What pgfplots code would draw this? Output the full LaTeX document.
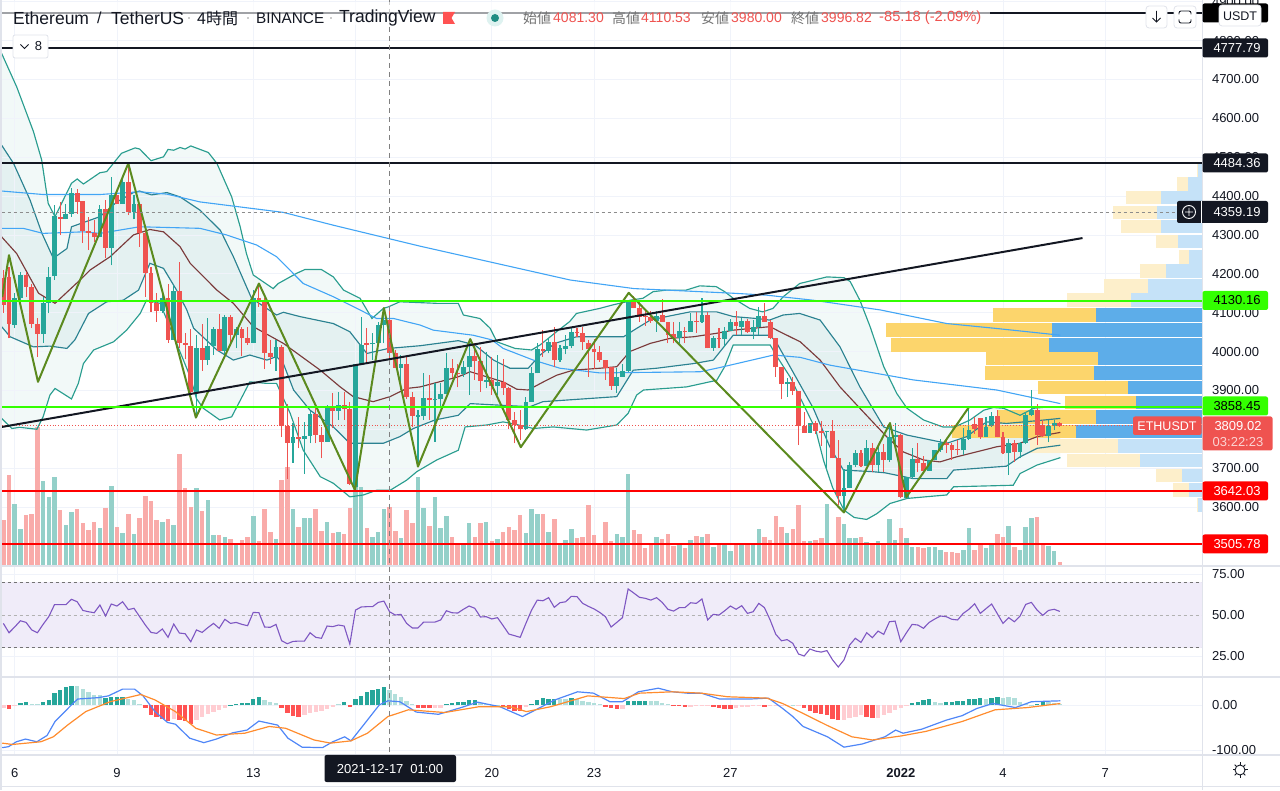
\documentclass[border=0pt]{standalone}
\usepackage{fontspec}
\usepackage{pgfplots}
\usepackage{pgfplotstable}
\pgfplotsset{compat=1.18}
\usepgfplotslibrary{fillbetween}
\setmainfont{Liberation Sans}
\newfontfamily\cjk{Noto Sans CJK JP}
\definecolor{up}{HTML}{26A69A}
\definecolor{dn}{HTML}{EF5350}
\definecolor{volup}{HTML}{94D0C9}
\definecolor{voldn}{HTML}{F9ABA9}
\definecolor{ink}{HTML}{131722}
\definecolor{gridc}{HTML}{F0F3FA}
\definecolor{paneb}{HTML}{E0E3EB}
\definecolor{lvlg}{HTML}{33FF00}
\definecolor{lvlr}{HTML}{FF0000}
\definecolor{zig}{HTML}{5B8A1E}
\definecolor{bbout}{HTML}{2A9D8F}
\definecolor{bbin}{HTML}{2B8291}
\definecolor{bbmid}{HTML}{7B3B3B}
\definecolor{mablue}{HTML}{42A5F5}
\definecolor{rsic}{HTML}{7E57C2}
\definecolor{rsib}{HTML}{F0ECF9}
\definecolor{macdb}{HTML}{4F86F7}
\definecolor{macdo}{HTML}{FF8C2E}
\definecolor{hsg}{HTML}{26A69A}
\definecolor{hlg}{HTML}{B2DFDB}
\definecolor{hsr}{HTML}{FF5252}
\definecolor{hlr}{HTML}{FFCDD2}
\definecolor{pob}{HTML}{FCD56C}
\definecolor{pbb}{HTML}{5DADE9}
\definecolor{pol}{HTML}{FDEFCB}
\definecolor{pbl}{HTML}{C5E2F8}

\pgfplotstableread{
i o h l c v
-2 4190 4210 4100 4120 45
-1 4192 4218 4034 4072 90
0 4068 4150 4060 4137 61
1 4137 4205 4130 4197 36
2 4197 4205 4140 4167 50
3 4167 4175 4060 4072 51
4 4072 4085 3987 4045 138
5 4045 4140 4023 4126 84
6 4126 4218 4098 4192 68
7 4194 4377 4184 4348 88
8 4347 4385 4300 4341 55
9 4341 4379 4340 4354 40
10 4354 4420 4347 4409 53
11 4409 4417 4355 4385 56
12 4387 4387 4280 4311 42
13 4311 4347 4261 4306 35
14 4306 4338 4282 4294 43
15 4294 4377 4294 4366 37
16 4366 4390 4240 4267 57
17 4267 4450 4222 4402 79
18 4402 4415 4379 4379 38
19 4379 4445 4379 4437 32
20 4437 4484 4351 4360 51
21 4360 4402 4340 4379 31
22 4379 4379 4270 4306 47
23 4306 4325 4141 4201 69
24 4201 4218 4102 4124 64
25 4124 4150 4077 4105 45
26 4105 4160 4098 4137 43
27 4139 4175 4023 4030 46
28 4030 4170 4030 4156 40
29 4156 4231 4010 4021 111
30 4023 4048 3980 4017 77
31 4015 4057 3890 3897 58
32 3897 4042 3832 4008 77
33 4008 4072 3950 3978 54
34 3978 4087 3965 4014 65
35 4014 4064 3991 4057 30
36 4057 4096 4002 4002 30
37 4002 4094 3993 4090 28
38 4090 4094 4017 4042 26
39 4042 4064 4008 4057 21
40 4057 4064 3988 4036 25
41 4036 4064 4017 4023 28
42 4023 4158 4021 4139 49
43 4139 4175 4115 4128 24
44 4131 4137 3954 3997 56
45 3997 4030 3969 3985 33
46 3985 4030 3951 4011 26
47 4011 4017 3780 3809 85
48 3809 3866 3673 3765 98
49 3765 3815 3714 3781 56
50 3781 3832 3751 3775 38
51 3775 3819 3686 3783 47
52 3783 3847 3764 3838 47
53 3838 3866 3764 3785 56
54 3785 3806 3725 3768 34
55 3768 3862 3768 3860 43
56 3860 3894 3802 3848 32
57 3848 3897 3824 3862 33
58 3862 3897 3824 3851 31
59 3851 3871 3656 3659 57
60 3652 3969 3643 3969 78
61 3969 4090 3969 4017 78
62 4021 4060 3969 4018 37
63 4019 4048 3978 4021 28
64 4021 4077 4021 4068 33
65 4068 4111 4021 4081 56
66 4081 4111 3978 3997 58
67 3997 4004 3957 3957 34
68 3958 3991 3901 3968 27
69 3968 3987 3879 3882 55
70 3882 3897 3806 3834 42
71 3832 3849 3703 3836 88
72 3834 3944 3824 3881 57
73 3881 3939 3824 3875 39
74 3875 3918 3768 3878 68
75 3877 3918 3854 3891 37
76 3891 3995 3891 3957 49
77 3957 3982 3931 3945 28
78 3945 3969 3908 3943 21
79 3943 3975 3935 3959 22
80 3959 4021 3888 3988 42
81 3988 4021 3927 3975 28
82 3975 4012 3896 3925 42
83 3922 3999 3905 3926 43
84 3926 3987 3888 3911 24
85 3911 3991 3888 3922 26
86 3922 3982 3888 3905 33
87 3905 3909 3800 3824 38
88 3824 3845 3764 3811 35
89 3812 3849 3772 3800 50
90 3800 3884 3798 3871 32
91 3871 3959 3871 3944 56
92 3944 4021 3944 4006 51
93 4006 4055 3987 4002 51
94 4002 4034 3995 4025 33
95 4025 4062 3961 3978 46
96 3978 4017 3974 4008 21
97 4007 4042 3993 4014 25
98 4014 4060 4008 4049 36
99 4049 4060 4038 4047 27
100 4047 4062 4004 4024 28
101 4023 4030 3935 4006 60
102 4006 4031 3954 3998 30
103 3998 4014 3974 3978 21
104 3978 3978 3927 3957 43
105 3959 3959 3901 3911 24
106 3911 3957 3894 3935 31
107 3935 3969 3935 3950 28
108 3950 4132 3948 4132 91
109 4132 4143 4111 4111 35
110 4111 4128 4077 4090 31
111 4091 4107 4066 4088 17
112 4090 4105 4074 4079 22
113 4079 4105 4051 4091 28
114 4094 4134 4077 4077 26
115 4077 4077 4021 4042 31
116 4045 4077 4021 4034 19
117 4036 4077 4023 4053 20
118 4053 4064 4023 4051 17
119 4051 4098 4051 4078 25
120 4078 4101 4048 4076 29
121 4076 4137 4074 4094 28
122 4094 4102 4008 4008 31
123 4010 4040 4002 4036 18
124 4036 4060 4008 4034 20
125 4032 4064 4012 4054 20
126 4054 4083 4054 4077 14
127 4075 4105 4042 4066 22
128 4064 4085 4042 4079 21
129 4079 4083 4048 4049 20
130 4049 4081 4031 4062 20
131 4062 4115 4042 4091 36
132 4091 4126 4077 4077 28
133 4077 4081 4031 4036 25
134 4036 4036 3935 3959 49
135 3959 3959 3877 3916 38
136 3916 3933 3884 3922 32
137 3922 3935 3888 3898 36
138 3898 3898 3759 3809 60
139 3809 3845 3791 3791 24
140 3791 3815 3791 3815 24
141 3815 3822 3789 3796 25
142 3796 3822 3757 3791 27
143 3794 3796 3699 3796 61
144 3796 3824 3725 3725 22
145 3725 3772 3605 3628 48
146 3628 3699 3590 3648 41
147 3648 3716 3648 3708 27
148 3708 3746 3703 3738 27
149 3738 3746 3703 3705 28
150 3705 3772 3705 3751 23
151 3751 3764 3690 3708 22
152 3708 3757 3690 3742 24
153 3742 3762 3691 3720 22
154 3720 3815 3716 3779 46
155 3779 3815 3755 3785 25
156 3785 3788 3622 3626 37
157 3622 3678 3622 3678 27
158 3678 3751 3673 3723 18
159 3723 3764 3691 3712 18
160 3712 3730 3691 3693 17
161 3693 3722 3693 3722 18
162 3722 3746 3720 3746 18
163 3746 3774 3742 3765 15
164 3765 3774 3738 3759 13
165 3759 3765 3721 3746 13
166 3748 3772 3733 3746 12
167 3746 3802 3733 3776 15
168 3774 3858 3772 3798 37
169 3813 3832 3788 3800 15
170 3828 3828 3776 3781 20
171 3781 3832 3781 3807 17
172 3808 3845 3806 3834 22
173 3834 3849 3779 3781 31
174 3781 3793 3736 3738 28
175 3738 3776 3682 3764 39
176 3764 3772 3716 3742 18
177 3742 3766 3725 3764 15
178 3764 3845 3762 3836 38
179 3836 3901 3834 3849 47
180 3849 3865 3759 3785 48
181 3812 3824 3780 3782 22
182 3782 3824 3766 3809 19
183 3809 3824 3798 3815 14
184 3815 3818 3806 3808 2.5
}\ohlc

\pgfplotstableread{
p up tot k
4467 4 5 0
4431 14 25 0
4396 41 76 0
4358 45 89 0
4322 41 81 0
4283 24 46 0
4243 13 23 0
4207 36 62 0
4169 54 98 0
4133 71 135 0
4094 106 209 1
4055 150 316 1
4017 153 311 1
3982 104 216 1
3945 108 217 1
3907 74 164 1
3869 66 137 1
3832 106 205 1
3794 126 250 1
3757 84 172 0
3720 62 135 0
3681 20 46 0
3644 13 29 0
3605 4 5 0
}\vprofile

\pgfplotstableread{
i r
-2 44.9
-1 39.2
0 42.7
1 46.5
2 45.5
3 40.9
4 39.2
5 44.3
6 49
7 56.3
8 56.3
9 56.3
10 59.6
11 58.1
12 52.8
13 52
14 51.4
15 56.1
16 49.4
17 56.7
18 55.5
19 58.1
20 53.3
21 54.1
22 49
23 43.9
24 39.4
25 38.8
26 41.5
27 36.4
28 44.5
29 39
30 38.6
31 33.7
32 40.9
33 39.4
34 42.3
35 44.9
36 41.9
37 47.4
38 44.9
39 45.5
40 44.3
41 43.5
42 51.6
43 51.4
44 42.7
45 42.5
46 44.3
47 34.3
48 32.5
49 33.9
50 34.1
51 34.1
52 39.2
53 36.4
54 35.8
55 43.3
56 42.9
57 43.9
58 43.3
59 32.3
60 53
61 54.9
62 55.1
63 55.1
64 57.7
65 58.5
66 52
67 50
68 50.4
69 44.9
70 42.1
71 42.1
72 45.7
73 45.7
74 45.7
75 47
76 52.6
77 51.4
78 51.2
79 53.5
80 55.5
81 54.1
82 48.8
83 49
84 47.6
85 48.4
86 43.5
87 38.4
88 37.4
89 36.4
90 44.9
91 53
92 59.1
93 58.7
94 60.6
95 54.7
96 57.5
97 58.1
98 61.4
99 61.2
100 57.1
101 55.3
102 53.7
103 51.6
104 49
105 42.7
106 45.5
107 48.4
108 65.9
109 63.4
110 60.8
111 60.2
112 59.1
113 60.6
114 57.7
115 53.5
116 52.4
117 54.5
118 54.5
119 57.5
120 57.1
121 59.8
122 47
123 50.4
124 50
125 52.6
126 55.5
127 53.5
128 55.7
129 51
130 52
131 57.1
132 54.5
133 47
134 38.2
135 34.3
136 35
137 32.7
138 26.2
139 25
140 29.3
141 28
142 27.4
143 28.3
144 22.6
145 18.3
146 22.6
147 31.7
148 35.8
149 33.3
150 39.2
151 36.2
152 40.2
153 38.2
154 45.9
155 46.3
156 33.7
157 39.2
158 44.3
159 43.9
160 41.9
161 45.5
162 47.6
163 49.4
164 49
165 47.4
166 47
167 51
168 53.5
169 56.9
170 51
171 53.9
172 56.7
173 50.8
174 44.9
175 48.4
176 45.9
177 49.4
178 56.5
179 57.7
180 53
181 49.8
182 52.8
183 53.5
184 52.2
}\rsi

\pgfplotstableread{
i h k
-2 -7 4
-1 -9 3
0 -2 4
1 6 1
2 8 1
3 4 2
4 2 2
5 7 1
6 12 1
7 27 1
8 34 1
9 40 1
10 44 1
11 44 2
12 36 2
13 30 2
14 24 2
15 23 2
16 17 1
17 19 1
18 18 1
19 19 1
20 14 2
21 12 2
22 4 2
23 -7 3
24 -21 3
25 -27 3
26 -30 3
27 -34 3
28 -30 4
29 -32 3
30 -35 3
31 -41 3
32 -32 4
33 -26 4
34 -20 4
35 -15 4
36 -10 4
37 -5 4
38 1 1
39 4 1
40 6 1
41 6 1
42 13 1
43 18 1
44 11 2
45 7 2
46 6 2
47 -7 3
48 -17 3
49 -24 3
50 -26 3
51 -22 4
52 -17 4
53 -15 4
54 -13 4
55 -9 4
56 -3 4
57 2 2
58 7 1
59 -3 3
60 13 1
61 21 1
62 30 1
63 34 1
64 37 1
65 40 1
66 34 2
67 25 2
68 19 2
69 10 2
70 2 2
71 -5 3
72 -5 3
73 -5 3
74 -5 4
75 -5 4
76 3 1
77 5 1
78 7 1
79 8 1
80 11 1
81 11 1
82 5 2
83 2 2
84 0.5 2
85 0.5 2
86 -3 3
87 -8 3
88 -12 3
89 -13 3
90 -3 4
91 4 1
92 11 1
93 16 1
94 15 1
95 14 1
96 15 2
97 15 2
98 16 1
99 13 2
100 10 2
101 7 2
102 5 2
103 2 2
104 -3 3
105 -6 3
106 -8 3
107 -9 4
108 9 1
109 10 1
110 10 1
111 10 1
112 9 2
113 9 2
114 6 2
115 2 2
116 -1 3
117 -2 3
118 -3 3
119 -3 4
120 -1 4
121 -1 4
122 -1 4
123 -4 3
124 -7 3
125 -8 3
126 -9 3
127 -5 4
128 -4 4
129 -3 4
130 -2 4
131 -2 4
132 -3 3
133 -2 4
134 -2 4
135 -2 4
136 -1 4
137 1 2
138 -1 4
139 -7 3
140 -13 3
141 -18 3
142 -20 3
143 -22 3
144 -30 3
145 -32 3
146 -32 4
147 -28 4
148 -26 4
149 -22 4
150 -26 3
151 -28 3
152 -28 4
153 -22 4
154 -17 4
155 -10 4
156 -5 4
157 -2 4
158 5 1
159 7 1
160 12 1
161 15 1
162 7 2
163 5 2
164 7 1
165 7 1
166 9 1
167 10 1
168 13 1
169 15 1
170 17 1
171 15 2
172 17 1
173 19 1
174 16 2
175 18 2
176 17 2
177 8 2
178 4 2
179 1 2
180 2 1
181 9 1
182 8 2
183 6 2
184 4 2
}\macdh

\pgfplotsset{
 tv/.style={scale only axis, width=1200pt, xmin=-2.236, xmax=209.03,
  anchor=south west, axis line style={draw=none}, major tick length=0pt,
  xtick={0,18,42,60,84,102,126,156,174,192}, xticklabels={},
  grid=major, grid style={draw=gridc, line width=0.8pt}},
 tvnums/.style={yticklabel pos=right,
  yticklabel style={font=\fontsize{13}{13}\selectfont, text=ink, anchor=west, xshift=6.5pt,
  /pgf/number format/fixed, /pgf/number format/fixed zerofill, /pgf/number format/precision=2, /pgf/number format/1000 sep={}, /pgf/number format/assume math mode=true}},
 main/.style={tv, at={(2pt,224pt)}, height=566pt, ymin=3448.2, ymax=4904.5},
 bare/.style={scale only axis, width=1200pt, xmin=-2.236, xmax=209.03, anchor=south west, hide axis},
 pane/.style={bare, at={(2pt,224pt)}, height=566pt, ymin=3448.2, ymax=4904.5},
 candle/.style 2 args={draw=none, forget plot, error bars/y dir=plus, error bars/y explicit, error bars/error mark=none,
   error bars/error bar style={solid, draw=#1, line width=#2}},
}

\begin{document}
\begin{tikzpicture}[x=1pt,y=1pt,line cap=butt]

% price grid and scale
\begin{axis}[main, tvnums, ytick={3600,3700,3800,3900,4000,4100,4200,4300,4400,4500,4600,4700,4800,4900},
  yticklabels={3600.00,3700.00,,3900.00,4000.00,4100.00,4200.00,4300.00,4400.00,4500.00,4600.00,4700.00,4800.00,4900.00}]
\addplot[draw=none] coordinates {(0,4000)};
\end{axis}

% volume profile
\begin{axis}[bare, at={(2pt,224pt)}, height=566pt, ymin=3448.2, ymax=4904.5, x dir=reverse, xmin=0, xmax=1200]
\addplot[xcomb, line width=13.4pt, draw=pol, restrict expr to domain={\thisrow{k}}{0:0}] table[x=tot,y=p] {\vprofile};
\addplot[xcomb, line width=13.4pt, draw=pbl, restrict expr to domain={\thisrow{k}}{0:0}] table[x=up,y=p] {\vprofile};
\addplot[xcomb, line width=13.4pt, draw=pob, restrict expr to domain={\thisrow{k}}{1:1}] table[x=tot,y=p] {\vprofile};
\addplot[xcomb, line width=13.4pt, draw=pbb, restrict expr to domain={\thisrow{k}}{1:1}] table[x=up,y=p] {\vprofile};
\end{axis}

% volume
\begin{axis}[bare, at={(2pt,224pt)}, height=566pt, ymin=-1, ymax=565]
\addplot[ycomb, line width=4.5pt, draw=volup, restrict expr to domain={\thisrow{c}-\thisrow{o}}{0:100000}] table[x=i,y=v] {\ohlc};
\addplot[ycomb, line width=4.5pt, draw=voldn, restrict expr to domain={\thisrow{c}-\thisrow{o}}{-100000:-0.001}] table[x=i,y=v] {\ohlc};
\end{axis}

% bands
\begin{axis}[pane]
\addplot[name path=ou, draw=bbout, line width=1.15pt] coordinates {
(-2.3,4767)(0.35,4681)(3.3,4566)(4.75,4493)(5.9,4381)(7.1,4347)(10,4433)(11,4444)(12.1,4431)(15,4460)(16.2,4463)(18.8,4510)(21.2,4524)(22,4521)(24,4491)(26.2,4501)(27,4520)(28,4518)(29.1,4525)(30,4521)(31,4529)(34.1,4512)(35.6,4484)(38.2,4398)(39.7,4321)(40.8,4252)(42,4197)(45.5,4162)(46.4,4175)(49.6,4201)(51.1,4211)(54,4211)(56.1,4192)(57.9,4158)(60.8,4137)(62.9,4085)(64.9,4111)(65.8,4115)(67.8,4128)(74.3,4124)(78.1,4124)(79,4094)(81.9,4085)(83.7,4060)(84.9,4025)(88.1,4008)(91,4004)(92.5,4017)(95.4,4051)(97.7,4077)(98.9,4098)(103,4111)(105.3,4120)(107.7,4128)(108.3,4132)(110.6,4137)(112.4,4154)(114.7,4158)(118.2,4158)(120.6,4169)(123.5,4167)(125,4154)(126.5,4137)(129.4,4111)(131.7,4102)(133.5,4111)(135.3,4141)(138.2,4175)(143,4192)(146,4190)(147.1,4180)(148.8,4132)(150.6,4064)(153,3961)(155.3,3892)(157.1,3854)(160,3824)(163.4,3806)(165.5,3806)(168.2,3824)(170.6,3849)(172.3,3856)(174.1,3854)(177,3836)(179.4,3854)(182.3,3858)(184,3858)};
\addplot[name path=ol, draw=bbout, line width=1.15pt] coordinates {
(-2.3,3828)(-0.5,3802)(0.9,3805)(3.9,3800)(5,3832)(6.2,3888)(7.1,3905)(10,3878)(11.2,3918)(12.1,3969)(13.9,4004)(17.4,4025)(19.7,4055)(22.1,4098)(23.2,4132)(25.6,4124)(28.5,4021)(30.9,3935)(32,3879)(33.2,3854)(36.1,3824)(38.2,3832)(41.4,3922)(44.4,3918)(46.1,3918)(48.5,3841)(50.8,3746)(53.8,3678)(56.1,3661)(59,3626)(61.4,3631)(63.7,3643)(66.1,3643)(69,3669)(70.8,3691)(74.3,3721)(78.1,3746)(79.3,3806)(83.1,3811)(86,3819)(88.7,3811)(91.3,3802)(94.8,3806)(100.7,3798)(106,3811)(108,3841)(109.5,3888)(110.7,3901)(118.3,3909)(123.6,3926)(125,3961)(126.5,4017)(133,4017)(134.2,3987)(136.5,3935)(139,3860)(141,3800)(142.4,3720)(144,3650)(146,3592)(147.8,3573)(150,3568)(151.8,3583)(154.1,3609)(157.1,3622)(164.1,3631)(165.3,3652)(175.8,3656)(177,3686)(180,3708)(184.1,3727)};
\addplot[fill=bbout, fill opacity=0.06, draw=none] fill between[of=ou and ol];
\end{axis}
\begin{axis}[pane]
\addplot[name path=iu, draw=bbin, line width=1.15pt] coordinates {
(-2.3,4531)(-0.2,4484)(2.7,4390)(4.8,4304)(6.8,4240)(9.2,4265)(10,4321)(15,4347)(18,4385)(20.9,4409)(22,4413)(24.1,4403)(26.8,4409)(29.1,4398)(32.6,4364)(36.2,4312)(38.5,4244)(40.8,4167)(41.7,4137)(46.1,4094)(47.3,4101)(50.2,4090)(56.1,4072)(59,4051)(62,3995)(65.8,4008)(71.4,4015)(78.1,4028)(81,4017)(84.3,3978)(87.2,3957)(90.4,3957)(92.5,3991)(95.1,4021)(98.9,4038)(107.2,4038)(109,4055)(111.9,4081)(114.8,4090)(118.9,4102)(123.6,4102)(126.5,4090)(130.6,4085)(132.9,4081)(135.3,4094)(138.2,4098)(141.8,4081)(145.3,4012)(148.8,3909)(153,3806)(157.1,3785)(164.1,3764)(167.6,3781)(171.1,3819)(174.6,3815)(180,3822)(184.1,3828)};
\addplot[name path=il, draw=bbin, line width=1.15pt] coordinates {
(-2.3,4064)(-0.8,4038)(3.3,4012)(6.2,4014)(9.2,4008)(10.6,4030)(13,4098)(16.2,4128)(19.1,4132)(21.8,4158)(23.8,4227)(26.2,4214)(28.5,4158)(30.3,4107)(31.5,4060)(35.6,4004)(38.5,3978)(41.4,3991)(44.4,3978)(46.1,3987)(47.3,3969)(49.1,3901)(52,3849)(56.1,3806)(59,3764)(64.9,3764)(67.8,3781)(70.2,3802)(74,3824)(78.1,3836)(80.2,3866)(85.4,3862)(90.7,3858)(93,3871)(106,3884)(108.9,3952)(113,3957)(119.5,3969)(123,3978)(126.5,4042)(133,4042)(134.2,4021)(140.6,3854)(143.5,3755)(145.9,3695)(150.9,3691)(153.2,3688)(158.2,3673)(164.1,3673)(165.3,3695)(174.6,3705)(177,3729)(180,3751)(184.1,3759)};
\addplot[fill=bbin, fill opacity=0.07, draw=none] fill between[of=iu and il];
\end{axis}
\begin{axis}[pane]
\addplot[draw=bbmid, line width=1.15pt] coordinates {
(-2.3,4295)(0.35,4252)(4.2,4150)(7.1,4124)(11.5,4184)(13.3,4210)(16.8,4244)(20.9,4300)(23.8,4314)(26.2,4308)(29.1,4270)(30.9,4227)(35.6,4158)(38.5,4124)(42,4064)(47.3,4021)(53.8,3952)(57.3,3909)(59.6,3884)(63.1,3871)(66.1,3884)(69,3905)(71.4,3909)(73.7,3918)(78.1,3935)(80.2,3948)(83.1,3935)(86,3922)(88.4,3903)(90.4,3901)(93.1,3922)(95.4,3939)(98.3,3952)(103,3957)(106,3961)(108.3,4000)(111.9,4021)(115.4,4034)(119.5,4038)(123.6,4047)(126.5,4055)(133,4064)(134.7,4051)(138.3,4025)(141.8,3978)(145.3,3909)(148.8,3854)(153.5,3781)(156.4,3742)(160,3721)(162.9,3716)(165.8,3729)(169.4,3742)(172.9,3755)(177,3764)(180,3781)(184.1,3792)};
\addplot[draw=mablue, line width=1.1pt] coordinates {
(-2.3,4413)(5,4404)(15,4404)(22,4411)(26.8,4405)(32.6,4385)(47.3,4358)(56.1,4325)(71.4,4271)(97.8,4184)(109,4162)(126.5,4150)(132.4,4145)(140.6,4132)(152.4,4107)(164.1,4072)(172.4,4060)(184.1,4042)};
\addplot[draw=mablue, line width=1.1pt] coordinates {
(-2.3,4317)(1.5,4317)(5,4304)(12.1,4308)(15,4304)(22,4321)(32.6,4317)(37.3,4300)(42.6,4274)(46.1,4244)(50.8,4175)(56.1,4141)(60.8,4107)(63.7,4085)(66.7,4085)(71.4,4068)(73.7,4055)(80.7,4042)(84,4030)(86,4008)(91.3,3978)(96,3957)(103,3945)(120.7,3948)(124.2,3959)(133.6,3991)(138.3,3985)(143.5,3965)(158.2,3927)(172.9,3901)(184.1,3866)};
\end{axis}

% candles
\begin{axis}[pane]
\addplot[candle={up}{1.1pt}, restrict expr to domain={\thisrow{c}-\thisrow{o}}{0:100000}]
  table[x=i,y=l,y error plus expr=\thisrow{h}-\thisrow{l}] {\ohlc};
\addplot[candle={dn}{1.1pt}, restrict expr to domain={\thisrow{c}-\thisrow{o}}{-100000:-0.001}]
  table[x=i,y=l,y error plus expr=\thisrow{h}-\thisrow{l}] {\ohlc};
\addplot[candle={up}{4.8pt}, restrict expr to domain={\thisrow{c}-\thisrow{o}}{0:100000}]
  table[x=i,y=o,y error plus expr=\thisrow{c}-\thisrow{o}] {\ohlc};
\addplot[candle={dn}{4.8pt}, restrict expr to domain={\thisrow{c}-\thisrow{o}}{-100000:-0.001}]
  table[x=i,y=c,y error plus expr=\thisrow{o}-\thisrow{c}] {\ohlc};
\end{axis}

\begin{axis}[pane]
% current price
\addplot[draw=dn, line width=0.8pt, dotted] coordinates {(-2.2,3809.02)(197,3809.02)};
% zigzag
\addplot[draw=zig, line width=2pt, line join=round] coordinates {
(-2.2,4140)(-1,4248)(4.1,3922)(20,4484)(31.9,3830)(43,4175)(59.9,3644)(65,4112)(71,3704)(80.2,4032)(89.1,3754)(108.1,4151)(146,3586)(154.1,3816)(157,3626)(168,3857)};
% trend line
\addplot[draw=ink, line width=2pt] coordinates {(-2.24,3806)(188,4292)};
% levels
\addplot[draw=ink, line width=2pt] coordinates {(-2.3,4871)(209.1,4871)};
\addplot[draw=ink, line width=2pt] coordinates {(-2.3,4781)(209.1,4781)};
\addplot[draw=ink, line width=2pt] coordinates {(-2.3,4484.36)(209.1,4484.36)};
\addplot[draw=lvlg, line width=2pt] coordinates {(-2.3,4130.16)(209.1,4130.16)};
\addplot[draw=lvlg, line width=2pt] coordinates {(-2.3,3858.45)(209.1,3858.45)};
\addplot[draw=lvlr, line width=2pt] coordinates {(-2.3,3642.03)(209.1,3642.03)};
\addplot[draw=lvlr, line width=2pt] coordinates {(-2.3,3505.78)(209.1,3505.78)};
\addplot[draw=black!45, line width=0.8pt, dashed] coordinates {(-2.3,4359.19)(204.3,4359.19)};
\end{axis}

% RSI
\begin{axis}[tv, tvnums, at={(2pt,113pt)}, height=110pt, ymin=12.2, ymax=79.3, ytick={25,50,75}]
\addplot[fill=rsib, draw=none] coordinates {(-2.3,30)(209.1,30)(209.1,70)(-2.3,70)} \closedcycle;
\addplot[draw=black!55, line width=0.8pt, dashed] coordinates {(-2.3,70)(209.1,70)};
\addplot[draw=black!30, line width=0.8pt, dashed] coordinates {(-2.3,50)(209.1,50)};
\addplot[draw=black!55, line width=0.8pt, dashed] coordinates {(-2.3,30)(209.1,30)};
\addplot[draw=rsic, line width=1.1pt] table[x=i,y=r] {\rsi};
\end{axis}

% MACD
\begin{axis}[tv, tvnums, at={(2pt,35pt)}, height=77pt, ymin=-110.4, ymax=60.7, ytick={-100,0},
  xticklabels={6,9,13,,20,23,27,\textbf{2022},4,7},
  xticklabel style={font=\fontsize{13}{13}\selectfont, text=ink, yshift=-10pt}]
\addplot[ycomb, line width=4.4pt, draw=hsg, restrict expr to domain={\thisrow{k}}{1:1}] table[x=i,y=h] {\macdh};
\addplot[ycomb, line width=4.4pt, draw=hlg, restrict expr to domain={\thisrow{k}}{2:2}] table[x=i,y=h] {\macdh};
\addplot[ycomb, line width=4.4pt, draw=hsr, restrict expr to domain={\thisrow{k}}{3:3}] table[x=i,y=h] {\macdh};
\addplot[ycomb, line width=4.4pt, draw=hlr, restrict expr to domain={\thisrow{k}}{4:4}] table[x=i,y=h] {\macdh};
\addplot[draw=macdb, line width=1.2pt] coordinates {
(-2.2,-94)(-1.1,-92)(0.3,-81)(1.9,-75)(3.9,-81)(5.7,-67)(7.1,-36)(10,1)(11.1,14)(14.7,17)(16.5,21)(19,36)(21.1,36)(22.6,21)(24.7,-14)(26.9,-38)(28.3,-42)(30.8,-73)(33.3,-83)(35.5,-75)(38.4,-61)(40.9,-55)(43,-35)(46.3,-44)(48.1,-73)(50.6,-93)(54.2,-94)(56,-81)(58.1,-70)(59.2,-79)(61.4,-44)(64.2,1)(65.7,10)(67.8,8)(70.7,-15)(74.6,-20)(78.6,-5)(81.5,7)(85.4,-3)(89.4,-25)(92.2,-7)(95.1,12)(99.1,30)(101.9,27)(104.8,8)(107,8)(109.8,30)(113.3,38)(115.8,30)(118.4,27)(120.9,27)(124.1,14)(129.5,14)(132.7,16)(135.2,-7)(137,-25)(138.8,-47)(143.1,-70)(146,-93)(149.2,-86)(153.2,-70)(155.1,-55)(156.4,-62)(159.7,-53)(164,-33)(166.8,-23)(169.4,-7)(172.2,4)(176.2,-5)(179,8)(184.1,10)};
\addplot[draw=macdo, line width=1.2pt] coordinates {
(-2.2,-84)(-0.4,-87)(4.6,-81)(6.8,-70)(9.3,-44)(12.5,-14)(16.8,8)(22.2,24)(24.7,12)(28.3,-14)(31.9,-51)(35.5,-66)(40.5,-62)(44.8,-47)(47.7,-51)(52.7,-77)(55.6,-84)(59.2,-79)(62.1,-62)(65.7,-25)(69.3,-10)(75.7,-16)(81.8,-3)(87.2,-3)(90.1,-14)(94.4,-3)(100.9,21)(107.3,15)(110,27)(115.8,30)(120.9,27)(125.5,19)(132.4,16)(135.2,4)(138.8,-18)(143.1,-45)(147.4,-70)(151,-77)(156.1,-68)(160.4,-58)(166.8,-36)(172.6,-10)(178.3,-5)(184.1,4)};
\end{axis}

% frame lines (picture coordinates: y = 790 - pixel row)
\fill[paneb] (0,0) rectangle (2,790);
\draw[paneb,line width=2pt] (0,223.5) -- (1280,223.5);
\draw[paneb,line width=1.5pt] (0,113) -- (1280,113);
\draw[paneb,line width=1.2pt] (0,35) -- (1280,35);
\draw[paneb,line width=1.2pt] (0,3.5) -- (1280,3.5);
\draw[paneb,line width=1pt] (1202.5,0) -- (1202.5,790);

% crosshair
\draw[black!50,line width=0.9pt,dash pattern=on 5pt off 4pt] (389.5,790) -- (389.5,35);
\fill[ink,rounded corners=2pt] (324.5,8) rectangle (456,35);
\node[text=white,font=\fontsize{13}{13}\selectfont] at (390,21) {2021-12-17\hspace{7pt}01:00};

% header
\fill[white,opacity=0.6] (2,765) rectangle (990,788);
\begin{scope}[every node/.style={anchor=west,inner sep=0pt}]
\node[text=ink,font=\fontsize{17.5}{17.5}\selectfont] at (13,772) {Ethereum};
\node[text=ink,font=\fontsize{16}{16}\selectfont] at (97,772) {/};
\node[text=ink,font=\fontsize{17.5}{17.5}\selectfont] at (111,772) {TetherUS};
\fill[black!40] (189,772) circle (0.9);
\node[text=ink,font=\fontsize{16}{16}\selectfont\cjk] at (197,772) {4時間};
\fill[black!40] (248,772) circle (0.9);
\node[text=ink,font=\fontsize{15.3}{16}\selectfont] at (256,772) {BINANCE};
\fill[black!40] (331,772) circle (0.9);
\node[text=ink,font=\fontsize{17.5}{17.5}\selectfont] at (339,772) {TradingView};
\fill[hsr] (443,766) -- (455,766) -- (451.5,772) -- (455,778) -- (443,778) -- cycle;
\fill[up!15] (495,772) circle (8.5);
\fill[up!85!black] (495,772) circle (4);
\node[text=black!55,font=\fontsize{14}{14}\selectfont\cjk] at (523,772) {始値};
\node[text=dn,font=\fontsize{14}{14}\selectfont] at (553,772) {4081.30};
\node[text=black!55,font=\fontsize{14}{14}\selectfont\cjk] at (612,772) {高値};
\node[text=dn,font=\fontsize{14}{14}\selectfont] at (641,772) {4110.53};
\node[text=black!55,font=\fontsize{14}{14}\selectfont\cjk] at (701,772) {安値};
\node[text=dn,font=\fontsize{14}{14}\selectfont] at (731,772) {3980.00};
\node[text=black!55,font=\fontsize{14}{14}\selectfont\cjk] at (791,772) {終値};
\node[text=dn,font=\fontsize{14}{14}\selectfont] at (821,772) {3996.82};
\node[text=dn,font=\fontsize{14.7}{15}\selectfont] at (879,772) {-85.18 (-2.09\%)};
\end{scope}

% indicators button
\draw[paneb,fill=white,rounded corners=2pt,line width=0.8pt] (13,732) rectangle (48,755);
\draw[ink,line width=0.9pt] (20.5,745.5) -- (24.5,741.5) -- (28.5,745.5);
\node[text=ink,font=\fontsize{13}{13}\selectfont] at (38.5,743.5) {8};

% buttons
\draw[paneb,fill=white,rounded corners=3pt,line width=0.8pt] (1146,762) rectangle (1167,784);
\draw[ink,line width=0.9pt] (1156.5,779) -- (1156.5,768) (1152.5,772) -- (1156.5,768) -- (1160.5,772);
\draw[paneb,fill=white,rounded corners=3pt,line width=0.8pt] (1174,762) rectangle (1196,784);
\draw[ink,line width=0.9pt,rounded corners=2pt] (1179,775.5) -- (1179,779) -- (1191,779) -- (1191,775.5) (1179,770.5) -- (1179,767) -- (1191,767) -- (1191,770.5);

% price labels
\newcommand{\pl}[4]{\fill[#3,rounded corners=2pt] (1202.5,{790-#1-9.5}) rectangle (1268,{790-#1+9.5});
 \node[text=#4,font=\fontsize{13}{13}\selectfont] at (1237,{790-#1}) {#2};}
\fill[black,rounded corners=2pt] (1202.5,767.5) rectangle (1268,786.5);
\pl{48}{4777.79}{ink}{white}
\pl{163}{4484.36}{ink}{white}
\pl{300.5}{4130.16}{lvlg}{black}
\pl{406}{3858.45}{lvlg}{black}
\pl{491}{3642.03}{lvlr}{white}
\pl{544}{3505.78}{lvlr}{white}
% USDT button
\draw[paneb,fill=white,rounded corners=3pt,line width=0.8pt] (1219,764) rectangle (1261,785);
\node[text=ink,font=\fontsize{12.5}{13}\selectfont] at (1240,774) {USDT};
% crosshair price
\fill[ink,rounded corners=2pt] (1177,567) rectangle (1268,589);
\draw[white,line width=0.7pt] (1201.5,567) -- (1201.5,589);
\draw[white,line width=0.9pt] (1189,578) circle (6.5) (1185,578) -- (1193,578) (1189,574) -- (1189,582);
\node[text=white,font=\fontsize{13}{13}\selectfont] at (1237,578) {4359.19};
% last price
\fill[dn,rounded corners=2pt] (1133,355) rectangle (1201.5,373.5);
\node[text=white,font=\fontsize{12.5}{13}\selectfont] at (1167,364) {ETHUSDT};
\fill[dn,rounded corners=2pt] (1202.5,339.5) rectangle (1272.5,373.5);
\node[text=white,font=\fontsize{13}{13}\selectfont] at (1238,364) {3809.02};
\node[text=white,opacity=0.75,font=\fontsize{13}{13}\selectfont] at (1238,348) {03:22:23};
% settings icon
\draw[ink,line width=0.9pt] (1240,20) circle (5);
\foreach \a in {0,45,...,315} {\draw[ink,line width=1pt] ({1240+5*cos(\a)},{20+5*sin(\a)}) -- ({1240+7.5*cos(\a)},{20+7.5*sin(\a)});}
\pgfresetboundingbox
\path[use as bounding box] (0,0) rectangle (1280,790);
\end{tikzpicture}
\end{document}
